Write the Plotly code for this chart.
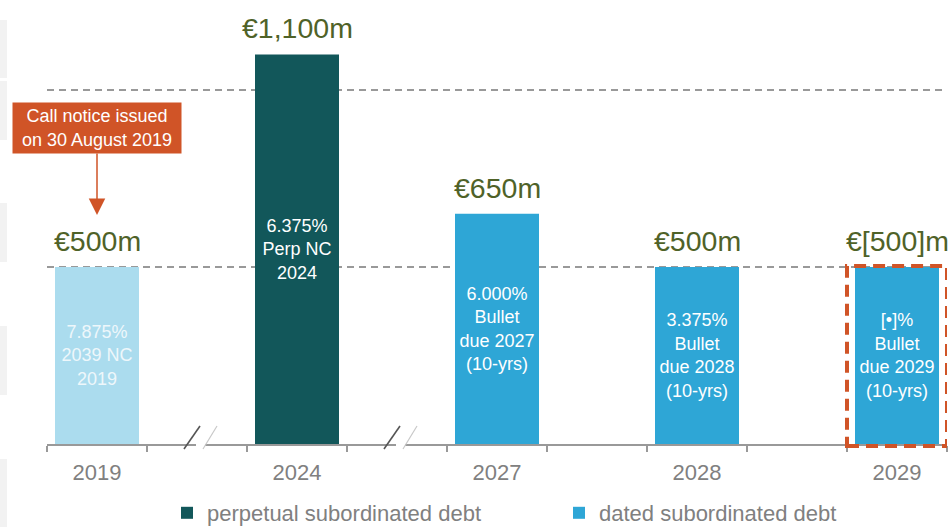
import plotly.graph_objects as go

# bonds, one per call/maturity year
years = ['2019', '2024', '2027', '2028', '2029']
amounts = [500, 1100, 650, 500, 500]
amount_labels = ['€500m', '€1,100m', '€650m', '€500m', '€[500]m']
bond_labels = [
    '7.875%<br>2039 NC<br>2019',
    '6.375%<br>Perp NC<br>2024',
    '6.000%<br>Bullet<br>due 2027<br>(10-yrs)',
    '3.375%<br>Bullet<br>due 2028<br>(10-yrs)',
    '[•]%<br>Bullet<br>due 2029<br>(10-yrs)',
]
debt_type = ['called', 'perpetual', 'dated', 'dated', 'dated']

# axis slots: the empty ones sit between the bars
slots = ['2019', ' ', '2024', '  ', '2027', '   ', '2028', '    ', '2029']
break_slots = [1, 3]

FONT = 'Arial, Liberation Sans, sans-serif'
GREY = '#8c8c8c'
TEAL = '#12575a'
BLUE = '#2ea6d6'
LIGHT = '#abdcee'
ORANGE = '#d05427'
OLIVE = '#4f6228'

W, H = 951, 527
ML, MR, MT, MB = 47, 4, 19, 83
YMAX = 1200
plot_h = H - MT - MB
plot_w = W - ML - MR


def pick(kind):
    idx = [i for i, t in enumerate(debt_type) if t == kind]
    return ([years[i] for i in idx], [amounts[i] for i in idx],
            [bond_labels[i] for i in idx])


fig = go.Figure()

series = [
    ('called', 'called', LIGHT, '#eef7fb', False),
    ('perpetual', 'perpetual subordinated debt', TEAL, 'white', True),
    ('dated', 'dated subordinated debt', BLUE, 'white', True),
]
for kind, name, color, tcolor, legend in series:
    x, y, txt = pick(kind)
    fig.add_trace(go.Bar(
        x=x, y=y, name=name, text=txt,
        marker=dict(color=color, line=dict(width=0)),
        textposition='inside', insidetextanchor='middle',
        constraintext='none', textangle=0,
        textfont=dict(family=FONT, size=18, color=tcolor),
        showlegend=legend, hoverinfo='skip'
    ))

# amounts above the bars (category index: year strings look numeric)
for yr, val, lab in zip(years, amounts, amount_labels):
    fig.add_annotation(
        x=slots.index(yr), y=val, text=lab, showarrow=False,
        yanchor='bottom', yshift=8,
        font=dict(family=FONT, size=28.5, color=OLIVE)
    )

# call notice callout
fig.add_annotation(
    x=slots.index(years[0]), y=amounts[0], yshift=52,
    text='Call notice issued<br>on 30 August 2019',
    showarrow=True, ax=0, ay=-87,
    arrowhead=2, arrowsize=2.2, arrowwidth=1.5, arrowcolor=ORANGE,
    bgcolor=ORANGE, width=164, height=46, borderpad=2,
    font=dict(family=FONT, size=18, color='white')
)


def py(px):
    # pixel offset from the x axis -> paper y
    return px / plot_h


# dashed box around the 2029 bond
last = slots.index(years[-1])
fig.add_shape(
    type='rect', xref='x', yref='paper',
    x0=last - 0.5, x1=last + 0.5,
    y0=py(-2), y1=amounts[-1] / YMAX + py(1),
    line=dict(color=ORANGE, width=4, dash='12px,7px'),
    layer='above'
)

# axis breaks
for s in break_slots:
    fig.add_shape(type='line', xref='x', yref='paper',
                  x0=s - 0.01, x1=s + 0.08, y0=0, y1=0,
                  line=dict(color='white', width=4), layer='above')
    fig.add_shape(type='line', xref='x', yref='paper',
                  x0=s - 0.13, x1=s + 0.03, y0=py(-5), y1=py(18),
                  line=dict(color='#555555', width=1.6), layer='above')
    fig.add_shape(type='line', xref='x', yref='paper',
                  x0=s + 0.06, x1=s + 0.2, y0=py(-5), y1=py(18),
                  line=dict(color='#c8c8c8', width=1.2), layer='above')

# faint slide strips on the left edge
for top, bot in [(20, 78), (81, 140), (203, 262), (326, 395), (459, 527)]:
    fig.add_shape(type='rect', xref='paper', yref='paper',
                  x0=-ML / plot_w, x1=-(ML - 7) / plot_w,
                  y0=(H - MB - bot) / plot_h, y1=(H - MB - top) / plot_h,
                  fillcolor='#f2f2f2', line=dict(width=0), layer='below')

fig.update_layout(
    width=W, height=H,
    margin=dict(l=ML, r=MR, t=MT, b=MB, autoexpand=False),
    barmode='overlay', bargap=0.16,
    plot_bgcolor='white', paper_bgcolor='white',
    font=dict(family=FONT, color=GREY),
    showlegend=True,
    legend=dict(
        orientation='h', x=(167 - ML) / plot_w, xanchor='left',
        y=py(-48), yanchor='top',
        font=dict(family=FONT, size=22, color='#808080'),
        entrywidth=347, entrywidthmode='pixels',
        bgcolor='rgba(0,0,0,0)'
    ),
    xaxis=dict(
        type='category', categoryorder='array', categoryarray=slots,
        range=[-0.5, len(slots) - 0.5],
        tickson='boundaries', ticks='outside', ticklen=6,
        tickcolor='#999999', tickwidth=1.5,
        showline=True, linecolor='#999999', linewidth=1.5,
        tickfont=dict(family=FONT, size=22, color='#808080'),
        ticklabelstandoff=8, showgrid=False, automargin=False
    ),
    yaxis=dict(
        range=[0, YMAX], tickvals=[500, 1000], showticklabels=False,
        showgrid=True, gridcolor='#999999', gridwidth=1.5,
        griddash='7px,5px', zeroline=False, showline=False,
        automargin=False
    )
)

# page body has a default 8px margin; drop it so the chart fills the window
fig.write_html('out.html',
               config={'displayModeBar': False},
               post_script="document.body.style.margin='0';"
                           "document.body.style.overflow='hidden';")
